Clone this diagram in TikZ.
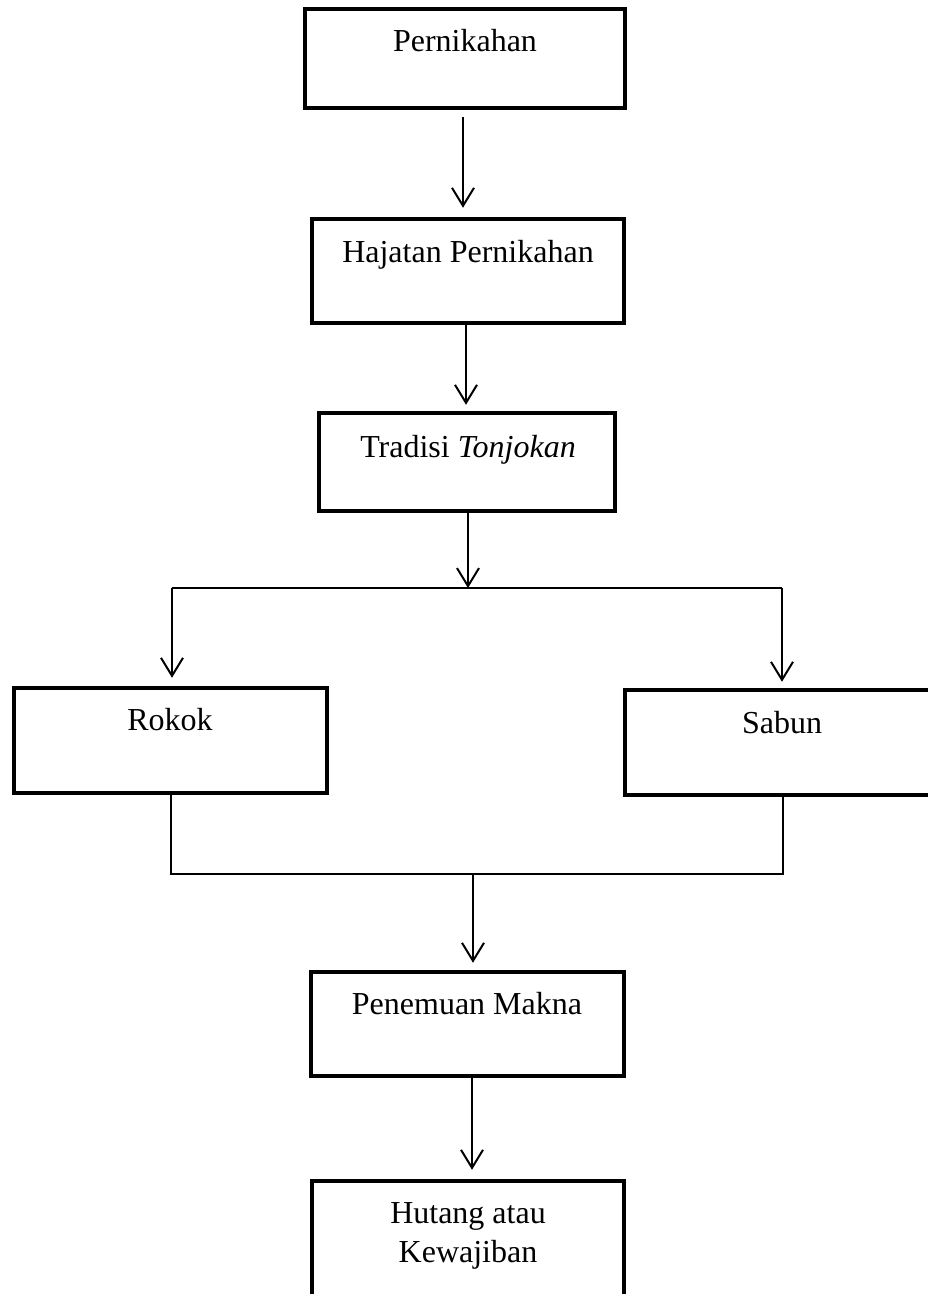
\documentclass[tikz,border=0pt]{standalone}
\usepackage{fontspec}
\setmainfont{Liberation Serif}
\usetikzlibrary{arrows.meta}
\begin{document}
\begin{tikzpicture}[x=1pt,y=-1pt,
  box/.style={draw, line width=4.5pt, rectangle, inner sep=0pt},
  lbl/.style={anchor=base, inner sep=0pt, font={\fontsize{32}{39}\selectfont}},
  conn/.style={line width=2pt},
  arr/.style={conn, -{Straight Barb[length=18pt,width=22pt]}}]
\useasboundingbox (0,0) rectangle (928,1294);
\fill[white] (0,0) rectangle (928,1294);
\clip (0,0) rectangle (928,1294);

% boxes
\node[box, minimum width=320pt, minimum height=99pt]  (pern)  at (465,58.5)   {};
\node[box, minimum width=312pt, minimum height=104pt] (haj)   at (468,271)    {};
\node[box, minimum width=296pt, minimum height=98pt]  (trad)  at (467,462)    {};
\node[box, minimum width=313pt, minimum height=105pt] (rokok) at (170.5,740.5) {};
\node[box, minimum width=320pt, minimum height=105pt] (sabun) at (785,742.5)  {};
\node[box, minimum width=313pt, minimum height=104pt] (pen)   at (467.5,1024) {};
\node[box, minimum width=312pt, minimum height=129pt] (hut)   at (468,1245.5) {};

% texts
\node[lbl] (tpern)  at (465,51)   {Pernikahan};
\node[lbl] (thaj)   at (468,262)  {Hajatan Pernikahan};
\node[lbl] (ttrad)  at (468,457)  {Tradisi \textit{Tonjokan}};
\node[lbl] (trokok) at (170,730)  {Rokok};
\node[lbl] (tsabun) at (782,733)  {Sabun};
\node[lbl] (tpen)   at (467,1014) {Penemuan Makna};
\node[lbl] (thut)   at (468,1223) {\begin{tabular}[t]{@{}c@{}}Hutang atau\\Kewajiban\end{tabular}};

% junction points
\coordinate (sl) at (172,588);
\coordinate (sr) at (782,588);
\coordinate (sm) at (468,588);
\coordinate (jm) at (473,874);

% connectors
\draw[arr] ([xshift=-2pt,yshift=-7pt]pern.south) -- ([xshift=-5pt,yshift=9pt]haj.north);
\draw[arr] ([xshift=-2pt]haj.south) -- ([xshift=-1pt,yshift=6pt]trad.north);
\draw[arr] ([xshift=1pt]trad.south) -- (sm);
\draw[conn] (sl) -- (sr);
\draw[arr, shorten >=8pt] (sl) -- (sl |- rokok.north);
\draw[arr, shorten >=6pt] (sr) -- (sr |- sabun.north);
\draw[conn] (rokok.south) |- (jm) -| ([xshift=-2pt]sabun.south);
\draw[arr, shorten >=7pt] (jm) -- (jm |- pen.north);
\draw[arr] ([xshift=4.5pt]pen.south) -- ([xshift=4pt,yshift=9pt]hut.north);
\end{tikzpicture}
\end{document}
